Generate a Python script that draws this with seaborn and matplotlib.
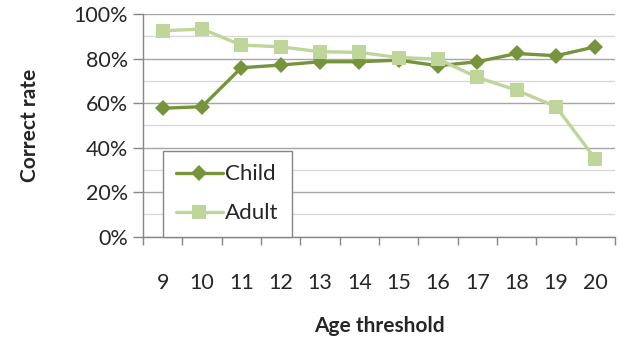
import numpy as np
import pandas as pd
import matplotlib
matplotlib.use("Agg")
import matplotlib.pyplot as plt
import seaborn as sns
from matplotlib.ticker import FixedLocator, PercentFormatter

# data
ages = ["9", "10", "11", "12", "13", "14", "15", "16", "17", "18", "19", "20"]
child = [57.7, 58.4, 75.9, 77.1, 78.6, 78.6, 79.3, 76.8, 78.6, 82.3, 81.3, 85.3]
adult = [92.5, 93.3, 86.1, 85.3, 83.1, 82.8, 80.5, 79.8, 71.6, 65.8, 58.4, 34.9]

df = pd.DataFrame({
    "age": ages * 2,
    "rate": np.array(child + adult) / 100,
    "group": ["Child"] * len(ages) + ["Adult"] * len(ages),
})

sns.set_style("white")
plt.rcParams["font.family"] = ["Lato", "DejaVu Sans"]

fig = plt.figure(figsize=(6.2, 3.44), dpi=100)
ax = fig.add_axes([0.2306, 0.312, 0.7614, 0.647])

palette = {"Child": "#77933c", "Adult": "#bfd59a"}
sns.lineplot(data=df, x="age", y="rate", hue="group", style="group",
             markers={"Child": "D", "Adult": "s"}, dashes=False,
             palette=palette, linewidth=2.4, markersize=9,
             markeredgewidth=0, sort=False, ax=ax, zorder=3)
# adult square markers are a bit bigger
for line in ax.lines:
    if line.get_color() == palette["Adult"]:
        line.set_markersize(10)
    else:
        line.set_markersize(8)

ax.set_xlim(-0.5, len(ages) - 0.5)
ax.set_ylim(0, 1)

ax.yaxis.set_major_locator(FixedLocator(np.arange(0, 1.01, 0.2)))
ax.yaxis.set_minor_locator(FixedLocator(np.arange(0.1, 1.0, 0.2)))
ax.yaxis.set_major_formatter(PercentFormatter(1.0, decimals=0))
ax.grid(axis="y", which="major", color="#a6a6a6", linewidth=1)
ax.grid(axis="y", which="minor", color="#d9d9d9", linewidth=1)
ax.set_axisbelow(True)

ax.set_xticks(range(len(ages)))
ax.set_xticklabels(ages)
ax.xaxis.set_minor_locator(FixedLocator(np.arange(-0.5, len(ages), 1)))
ax.tick_params(axis="x", which="major", length=0, pad=26, labelsize=15.5)
ax.tick_params(axis="x", which="minor", length=6, width=1, color="#868686",
               direction="out", bottom=True)
ax.tick_params(axis="y", which="major", length=7, width=1, color="#868686",
               direction="out", left=True, labelsize=15.5, pad=4)
ax.tick_params(axis="y", which="minor", length=0)

for side in ["top", "right"]:
    ax.spines[side].set_visible(False)
for side in ["left", "bottom"]:
    ax.spines[side].set_color("#868686")
    ax.spines[side].set_linewidth(1)

ax.set_xlabel("Age threshold", fontsize=15, fontweight="bold", labelpad=17)
ax.set_ylabel("Correct rate", fontsize=15, fontweight="bold", labelpad=24)

leg = ax.legend(loc="lower left", bbox_to_anchor=(0.042, 0.0), fontsize=16,
                frameon=True, fancybox=False, edgecolor="#868686",
                framealpha=1, handlelength=2.1, handletextpad=0.1,
                borderpad=0.6, labelspacing=0.85, borderaxespad=0)
leg.get_frame().set_linewidth(1)

fig.savefig("out.png", dpi=100)
